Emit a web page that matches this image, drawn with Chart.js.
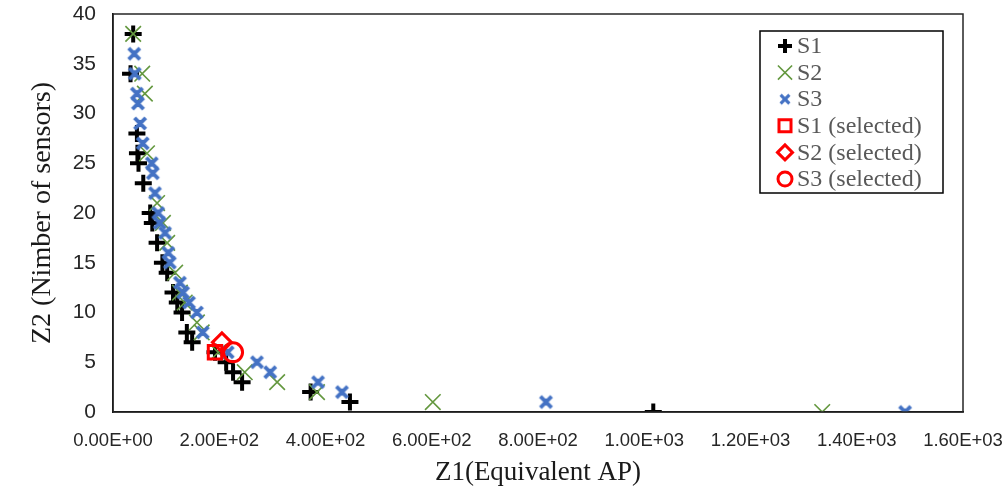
<!DOCTYPE html>
<html>
<head>
<meta charset="utf-8">
<script src="https://cdn.jsdelivr.net/npm/chart.js@4.4.1/dist/chart.umd.min.js"></script>
<style>
  html, body { margin: 0; padding: 0; background: #fff; overflow: hidden; }
</style>
</head>
<body>
<canvas id="pareto" width="1007" height="491"></canvas>
<script>
// values
const s1X = [38, 33, 45, 46, 48, 57, 70, 74, 83, 93, 102, 113, 121, 130, 139, 149, 192, 213, 226, 243, 372, 446, 1017];
const s1Y = [38, 34, 28, 26, 25, 23, 20, 19, 17, 15, 14, 12, 11, 10, 8, 7, 6, 5, 4, 3, 2, 1, 0];

const s2X = [38, 55, 60, 64, 83, 94, 102, 117, 126, 135, 158, 167, 198, 248, 309, 384, 602, 1335];
const s2Y = [38, 34, 32, 26, 21, 19, 17, 14, 12, 11, 9, 8, 6, 4, 3, 2, 1, 0];

const s3X = [40, 41, 45, 47, 51, 56, 73, 75, 79, 85, 88, 98, 104, 107, 126, 132, 143, 158, 169, 216, 271, 296, 386, 431, 815, 1491];
const s3Y = [36, 34, 32, 31, 29, 27, 25, 24, 22, 20, 19, 18, 16, 15, 13, 12, 11, 10, 8, 6, 5, 4, 3, 2, 1, 0];

const selX = [192, 205, 226];
const selY = [6, 7, 6];

const seriesNames = ['S1', 'S2', 'S3', 'S1 (selected)', 'S2 (selected)', 'S3 (selected)'];
const xTicks = [0, 200, 400, 600, 800, 1000, 1200, 1400, 1600];

const GREEN = '#64983f';
const BLUE = '#4472c4';
const RED = '#ff0000';

function pts(xs, ys) {
    return xs.map((x, i) => ({ x: x, y: ys[i] }));
}

// excel style star marker (x with a vertical stroke)
function makeStar(size, lw) {
    const c = document.createElement('canvas');
    c.width = size;
    c.height = size;
    const g = c.getContext('2d');
    g.strokeStyle = BLUE;
    g.lineWidth = lw;
    g.lineCap = 'butt';
    const m = lw / 2 + 1;
    g.beginPath();
    g.moveTo(m, m); g.lineTo(size - m, size - m);
    g.moveTo(size - m, m); g.lineTo(m, size - m);
    g.moveTo(size / 2, m + 2); g.lineTo(size / 2, size - m - 2);
    g.stroke();
    return c;
}
const starBig = makeStar(17, 3.8);
const starSmall = makeStar(14, 3.2);

function sciLabel(v) {
    return Number(v).toExponential(2).toUpperCase().replace(/E\+(\d)$/, 'E+0$1').replace(/E-(\d)$/, 'E-0$1');
}

// tick labels may stick out of the plot, like in excel
function noOverflow(scale) {
    scale.paddingTop = 0;
    scale.paddingBottom = 0;
    scale.paddingLeft = 0;
    scale.paddingRight = 0;
}

// legend box in top right of plot, like the excel one
const boxLegend = {
    id: 'boxLegend',
    afterDraw(chart) {
        const ctx = chart.ctx;
        const a = chart.chartArea;
        // plot area frame
        ctx.save();
        ctx.strokeStyle = '#262626';
        ctx.lineWidth = 1.5;
        ctx.strokeRect(a.left, a.top, a.right - a.left, a.bottom - a.top);

        const bx = 760, by = 31, bw = 183, bh = 162;
        ctx.fillStyle = '#fff';
        ctx.fillRect(bx, by, bw, bh);
        ctx.strokeStyle = '#000';
        ctx.lineWidth = 1.5;
        ctx.strokeRect(bx, by, bw, bh);

        const styles = [
            { pointStyle: 'cross', borderColor: '#000', borderWidth: 4, radius: 7 },
            { pointStyle: 'crossRot', borderColor: GREEN, borderWidth: 1.6, radius: 10 },
            { pointStyle: starSmall, radius: 7 },
            { pointStyle: 'rect', borderColor: RED, borderWidth: 3, radius: 8.5 },
            { pointStyle: 'rectRot', borderColor: RED, borderWidth: 3, radius: 7.5 },
            { pointStyle: 'circle', borderColor: RED, borderWidth: 3, radius: 7 }
        ];
        ctx.font = '24px "Liberation Serif", "Times New Roman", serif';
        ctx.textBaseline = 'middle';
        ctx.textAlign = 'left';
        seriesNames.forEach((name, i) => {
            const cy = 46 + i * 26.6;
            const st = styles[i];
            ctx.strokeStyle = st.borderColor || BLUE;
            ctx.fillStyle = 'rgba(0,0,0,0)';
            ctx.lineWidth = st.borderWidth || 1;
            Chart.helpers.drawPoint(ctx, {
                pointStyle: st.pointStyle, rotation: 0, radius: st.radius,
                borderWidth: st.borderWidth || 1
            }, 785, cy);
            ctx.fillStyle = '#595959';
            ctx.fillText(name, 797, cy + 1);
        });
        ctx.restore();
    }
};

const ctx = document.getElementById('pareto');

new Chart(ctx, {
    type: 'scatter',
    data: {
        datasets: [
            {
                label: seriesNames[3],
                data: pts([selX[0]], [selY[0]]),
                pointStyle: 'rect',
                pointRadius: 9.5,
                borderColor: RED,
                backgroundColor: 'rgba(0,0,0,0)',
                pointBorderWidth: 3,
                order: 0
            },
            {
                label: seriesNames[4],
                data: pts([selX[1]], [selY[1]]),
                pointStyle: 'rectRot',
                pointRadius: 9.5,
                borderColor: RED,
                backgroundColor: 'rgba(0,0,0,0)',
                pointBorderWidth: 3,
                order: 0
            },
            {
                label: seriesNames[5],
                data: pts([selX[2]], [selY[2]]),
                pointStyle: 'circle',
                pointRadius: 9.5,
                borderColor: RED,
                backgroundColor: 'rgba(0,0,0,0)',
                pointBorderWidth: 3,
                order: 0
            },
            {
                label: seriesNames[2],
                data: pts(s3X, s3Y),
                pointStyle: starBig,
                pointRadius: 8,
                borderColor: BLUE,
                backgroundColor: BLUE,
                order: 1
            },
            {
                label: seriesNames[1],
                data: pts(s2X, s2Y),
                pointStyle: 'crossRot',
                pointRadius: 11,
                borderColor: GREEN,
                backgroundColor: GREEN,
                pointBorderWidth: 1.6,
                order: 2
            },
            {
                label: seriesNames[0],
                data: pts(s1X, s1Y),
                pointStyle: 'cross',
                pointRadius: 8.5,
                borderColor: '#000',
                backgroundColor: '#000',
                pointBorderWidth: 4,
                order: 3
            }
        ]
    },
    options: {
        responsive: false,
        animation: false,
        layout: {
            autoPadding: false,
            padding: { top: 14, right: 44, left: 0, bottom: 0 }
        },
        plugins: {
            legend: { display: false },
            tooltip: { enabled: false }
        },
        scales: {
            x: {
                type: 'linear',
                min: 0,
                max: 1600,
                afterBuildTicks: (scale) => {
                    scale.ticks = xTicks.map(v => ({ value: v }));
                },
                afterFit: (scale) => { scale.height = 79; noOverflow(scale); },
                grid: { display: false, drawTicks: false },
                border: { display: true, color: '#000', width: 1.5 },
                ticks: {
                    padding: 18,
                    maxRotation: 0,
                    color: '#262626',
                    font: { family: '"Liberation Sans Narrow", "Liberation Sans", sans-serif', size: 18.5 },
                    callback: (v) => sciLabel(v)
                },
                title: {
                    display: true,
                    text: 'Z1(Equivalent AP)',
                    color: '#1a1a1a',
                    padding: { top: 4, bottom: 2 },
                    font: { family: '"Liberation Serif", "Times New Roman", serif', size: 27 }
                }
            },
            y: {
                min: 0,
                max: 40,
                afterFit: (scale) => { scale.width = 113; noOverflow(scale); },
                grid: { display: false, drawTicks: false },
                border: { display: true, color: '#000', width: 1.5 },
                ticks: {
                    stepSize: 5,
                    padding: 17,
                    color: '#262626',
                    font: { family: '"Liberation Sans Narrow", "Liberation Sans", sans-serif', size: 21 }
                },
                title: {
                    display: true,
                    text: 'Z2 (Nimber of sensors)',
                    color: '#1a1a1a',
                    padding: { top: 26, bottom: 0 },
                    font: { family: '"Liberation Serif", "Times New Roman", serif', size: 28 }
                }
            }
        }
    },
    plugins: [boxLegend]
});
</script>
</body>
</html>
